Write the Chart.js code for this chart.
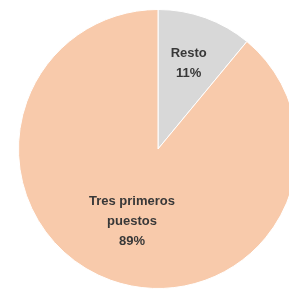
<!DOCTYPE html>
<html>
<head>
<meta charset="utf-8">
<script src="https://cdn.jsdelivr.net/npm/chart.js@4/dist/chart.umd.min.js"></script>
<style>
  html, body { margin: 0; padding: 0; background: #fff; overflow: hidden; }
  #wrap { position: absolute; left: 0; top: 0; width: 320px; height: 297px; }
</style>
</head>
<body>
<div id="wrap"><canvas id="chart"></canvas></div>
<script>
const categories = ["Resto", "Tres primeros puestos"];
const labelLines = [["Resto"], ["Tres primeros", "puestos"]];
const values = [11, 89];
const colors = ["#D8D8D8", "#F8CAAB"];

// how far out (share of the radius) each label sits
const labelRadius = [0.65, 0.55];

// draws the category name and percent inside each slice
const sliceLabels = {
  id: "sliceLabels",
  afterDatasetsDraw(chart) {
    const ctx = chart.ctx;
    const meta = chart.getDatasetMeta(0);
    const total = values.reduce((a, b) => a + b, 0);
    ctx.save();
    ctx.font = "bold 13px 'Liberation Sans', Arial, sans-serif";
    ctx.fillStyle = "#383838";
    ctx.textAlign = "center";
    ctx.textBaseline = "middle";
    meta.data.forEach((arc, i) => {
      const p = arc.getProps(["x", "y", "startAngle", "endAngle", "outerRadius"], true);
      const mid = (p.startAngle + p.endAngle) / 2;
      const r = p.outerRadius * labelRadius[i];
      const cx = p.x + Math.cos(mid) * r;
      const cy = p.y + Math.sin(mid) * r;
      const lines = labelLines[i].concat([Math.round(values[i] / total * 100) + "%"]);
      const lh = 20;
      const y0 = cy - (lines.length - 1) * lh / 2;
      lines.forEach((t, k) => ctx.fillText(t, cx, y0 + k * lh));
    });
    ctx.restore();
  }
};

new Chart(document.getElementById("chart").getContext("2d"), {
  type: "pie",
  data: {
    labels: categories,
    datasets: [{
      data: values,
      backgroundColor: colors,
      borderColor: "#ffffff",
      borderWidth: 1
    }]
  },
  options: {
    responsive: true,
    maintainAspectRatio: false,
    animation: false,
    layout: { padding: { left: 18, right: 22, top: 9, bottom: 8 } },
    plugins: {
      legend: { display: false },
      tooltip: { enabled: false }
    }
  },
  plugins: [sliceLabels]
});
</script>
</body>
</html>
